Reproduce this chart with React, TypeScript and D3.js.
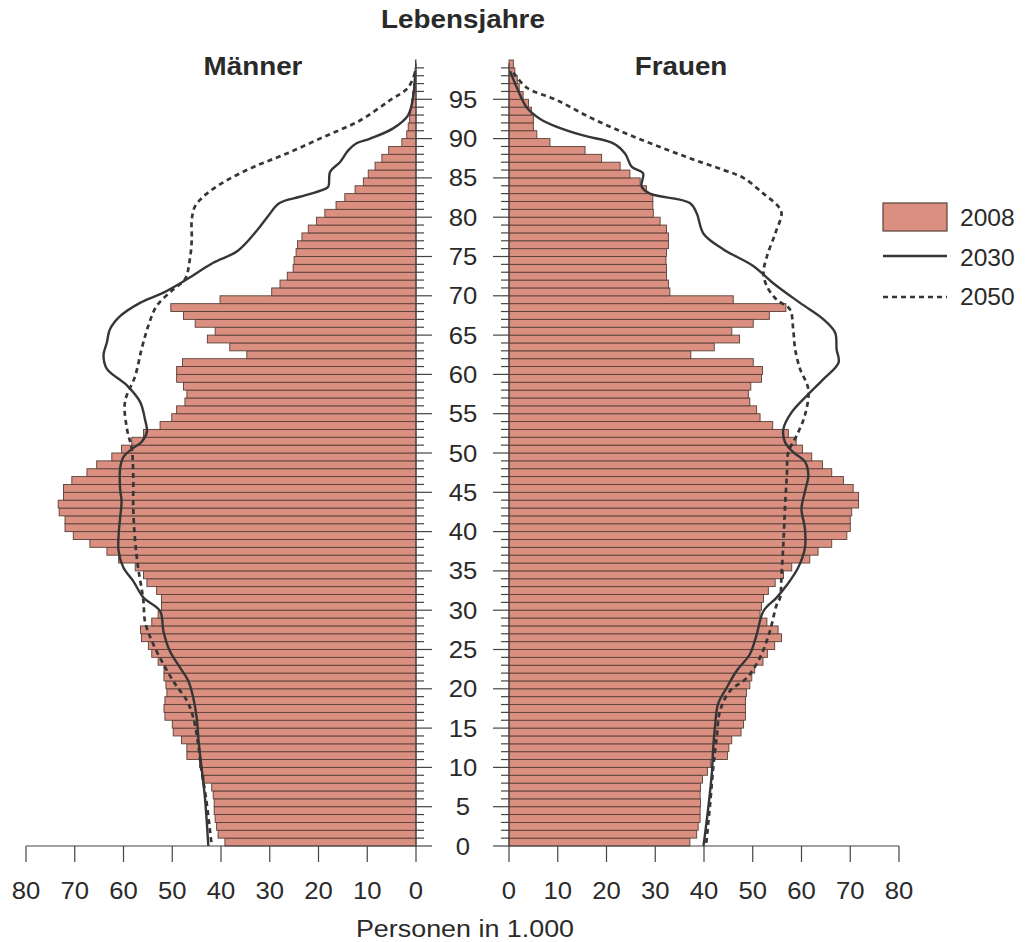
import React from "react";
import * as d3 from "d3";

const W = 1028;
const H = 942;
const FONT = "'Liberation Sans', Arial, Helvetica, sans-serif";
const TEXT = "#2a2a2a";
const BAR_FILL = "#da8f80";
const BAR_STROKE = "#5a4038";
const LINE = "#363636";

// Bevölkerung 2008 je Altersjahr 0..99, in 1.000
const maenner2008 = [
  39.2, 40.6, 40.9, 41.2, 41.4, 41.4, 41.6, 41.9, 43.5, 44.0,
  44.4, 47.0, 47.0, 48.1, 49.8, 50.0, 51.5, 51.7, 51.5, 51.1,
  51.3, 51.7, 51.7, 52.9, 54.2, 54.9, 56.3, 56.5, 54.2, 52.9,
  52.2, 52.2, 53.2, 55.2, 55.9, 57.6, 61.0, 63.4, 66.9, 70.3,
  72.0, 72.0, 73.2, 73.4, 72.3, 72.3, 70.6, 67.5, 65.5, 62.4,
  60.4, 58.3, 55.9, 52.5, 50.1, 49.1, 47.4, 47.0, 47.7, 49.1,
  49.1, 47.9, 34.7, 38.2, 42.8, 41.2, 45.3, 47.7, 50.3, 40.2,
  29.6, 27.9, 26.4, 25.2, 25.0, 24.6, 24.3, 23.4, 22.1, 20.4,
  18.7, 16.4, 14.6, 12.5, 10.8, 9.8, 8.4, 7.0, 5.6, 2.9,
  1.9, 1.6, 1.3, 1.1, 0.9, 0.7, 0.5, 0.3, 0.2, 0.1
];

const frauen2008 = [
  37.1, 38.5, 38.8, 39.2, 39.2, 39.3, 39.2, 39.3, 39.7, 40.7,
  41.4, 44.8, 45.1, 45.7, 47.6, 48.1, 48.5, 48.5, 48.5, 48.7,
  49.4, 49.8, 50.4, 52.1, 53.0, 54.5, 55.9, 55.2, 52.9, 51.5,
  51.8, 52.2, 53.2, 54.6, 56.3, 58.0, 61.7, 63.4, 66.2, 69.3,
  70.0, 70.0, 70.3, 71.7, 71.7, 70.6, 68.6, 66.2, 64.3, 62.1,
  60.2, 58.9, 57.3, 54.1, 51.5, 50.8, 49.4, 49.1, 49.6, 51.8,
  52.0, 50.1, 37.3, 42.1, 47.3, 45.7, 50.1, 53.4, 56.8, 46.0,
  33.0, 32.7, 32.3, 32.3, 32.2, 32.3, 32.7, 32.7, 32.3, 31.0,
  29.6, 29.5, 29.5, 28.2, 26.9, 24.8, 22.8, 19.0, 15.6, 8.4,
  5.7, 5.0, 5.0, 4.6, 4.0, 2.9, 2.1, 1.7, 1.2, 0.9
];

// Vorausberechnung: [Alter, Personen in 1.000]
const maenner2030: [number, number][] = [
  [98.6, 0.2], [95.7, 0.5], [93, 1.6], [91.3, 4.7], [90, 9.4], [89.4, 12.2],
  [88.5, 13.9], [87, 15.6], [85.8, 17.6], [83.9, 18], [83.5, 19], [82.6, 23.8],
  [81.8, 28], [80.1, 30.4], [78.4, 32.5], [75.7, 36.6], [74.2, 41.6], [72.1, 47],
  [70.4, 51.8], [69.1, 56.6], [67.4, 60.7], [65.7, 62.8], [64.1, 63.4], [62.4, 64.1],
  [60.7, 63.4], [58.6, 59.3], [56.5, 56.6], [54.3, 55.6], [52.7, 55.2], [51.4, 56.3],
  [50.5, 58.3], [49.5, 60], [48, 60.7], [45.5, 60.7], [43.8, 60.4], [41.7, 60.7],
  [39.6, 61], [37.5, 61], [35.4, 60], [33.7, 58], [31.6, 55.9], [29.9, 52.5],
  [27.3, 51.8], [24.8, 50.5], [22.7, 48.4], [21, 46.7], [18.9, 45.7], [16.4, 45],
  [13.4, 44.6], [10, 44], [6.2, 43.3], [0, 42.6]
];

const maenner2050: [number, number][] = [
  [98.4, 0.2], [96.5, 1.6], [94.9, 5.3], [92.3, 11.5], [90.2, 19], [88.1, 26.5],
  [86.4, 33.3], [84.7, 38.8], [83, 42.9], [81.4, 45.3], [79.7, 46], [77.1, 46],
  [74.6, 46.4], [72.1, 47.4], [70.8, 49.8], [68.7, 53.2], [66.2, 54.9], [63.2, 56.3],
  [59.8, 57.6], [56.5, 59.7], [53.1, 59.3], [50.5, 58.3], [47.2, 58], [42.9, 58],
  [38.7, 57.6], [35.4, 57], [32.8, 56.3], [31.1, 55.9], [28.6, 55.6], [26.1, 54.2],
  [23.1, 51.8], [20.6, 49.4], [18.5, 47], [16.4, 45.7], [13, 44.7], [9.6, 44],
  [6.2, 43.1], [0, 41.9]
];

const frauen2030: [number, number][] = [
  [98.6, 0.2], [96.5, 1.6], [94, 3.6], [92.5, 6.4], [91.5, 9.8], [90.4, 15.2],
  [89.4, 21.4], [88.1, 23.8], [86.4, 25.2], [85.6, 27.5], [83.9, 27.2], [83, 28.9],
  [81.8, 37.1], [80.5, 38.5], [77.9, 39.9], [75.9, 44], [73.8, 50.1], [71.6, 54.2],
  [69.1, 59.7], [67, 64.5], [65.3, 66.9], [63.2, 67.2], [61.5, 67.6], [59.4, 64.5],
  [57.3, 61.1], [55.2, 58], [53.1, 56.3], [51.4, 56.6], [50.1, 58.3], [48.9, 60.7],
  [47.2, 61.4], [45.1, 60.7], [42.9, 60], [40.4, 60.7], [37.9, 60.7], [35.4, 59.3],
  [33.2, 57], [31.6, 54.9], [29.9, 52.2], [26.9, 50.8], [24.4, 49.4], [22.3, 46.7],
  [20.2, 44.7], [18.1, 42.9], [15.5, 42.3], [12.6, 41.9], [9.2, 41.6], [5, 40.9],
  [0, 39.9]
];

const frauen2050: [number, number][] = [
  [98.4, 0.9], [96.5, 3.6], [94.9, 9.8], [92.7, 16.6], [90.8, 23.4], [89.1, 30.3],
  [87.5, 37.1], [86, 44], [85, 48.1], [83, 52.2], [81.4, 55.2], [80.5, 55.9],
  [77.9, 54.6], [75, 52.9], [72.9, 52.2], [71.2, 52.9], [69.5, 54.9], [68.3, 57.6],
  [65.7, 58.3], [63.2, 58.7], [60.7, 59.7], [58.1, 61.4], [54.8, 60.7], [52.2, 59],
  [50.1, 57.3], [47.2, 57], [42.9, 56.6], [38.7, 56.3], [34.5, 55.9], [31.6, 55.6],
  [30.7, 54.9], [27.3, 53.5], [24, 51.5], [21.4, 48.8], [19.7, 45.3], [17.2, 43.3],
  [13.8, 42.6], [10, 41.9], [5, 41.2], [0, 40.4]
];

const ageLabels = [0, 5, 10, 15, 20, 25, 30, 35, 40, 45, 50, 55, 60, 65, 70, 75, 80, 85, 90, 95];
const valueLabels = [0, 10, 20, 30, 40, 50, 60, 70, 80];
const legendLabels = ["2008", "2030", "2050"];

export default function App() {
  const y = d3.scaleLinear().domain([0, 100]).range([846, 60]);
  const xL = d3.scaleLinear().domain([0, 80]).range([416, 26]);
  const xR = d3.scaleLinear().domain([0, 80]).range([509, 899]);

  const lineL = d3
    .line<[number, number]>()
    .x(d => xL(d[1]))
    .y(d => y(d[0]))
    .curve(d3.curveCatmullRom.alpha(0.5));
  const lineR = d3
    .line<[number, number]>()
    .x(d => xR(d[1]))
    .y(d => y(d[0]))
    .curve(d3.curveCatmullRom.alpha(0.5));

  const ageTicks = d3.range(0, 100);
  const axisY = 846;
  const labelX = 463;

  // Schrift leicht in die Breite gezogen wie im Original
  const wide = (x: number, yy: number) => `translate(${x},${yy}) scale(1.07,1)`;

  return (
    <svg
      width={W}
      height={H}
      style={{ position: "absolute", left: 0, top: 0, background: "#fff" }}
      fontFamily={FONT}
    >
      {/* Balken 2008 */}
      <g>
        {maenner2008.map((v, i) => (
          <rect
            key={"m" + i}
            x={xL(v)}
            y={y(i + 1)}
            width={xL(0) - xL(v)}
            height={y(i) - y(i + 1)}
            fill={BAR_FILL}
            stroke={BAR_STROKE}
            strokeWidth={0.9}
          />
        ))}
        {frauen2008.map((v, i) => (
          <rect
            key={"f" + i}
            x={xR(0)}
            y={y(i + 1)}
            width={xR(v) - xR(0)}
            height={y(i) - y(i + 1)}
            fill={BAR_FILL}
            stroke={BAR_STROKE}
            strokeWidth={0.9}
          />
        ))}
      </g>

      {/* Linien 2030 / 2050 */}
      <path d={lineL(maenner2030) || ""} fill="none" stroke={LINE} strokeWidth={2.4} />
      <path d={lineR(frauen2030) || ""} fill="none" stroke={LINE} strokeWidth={2.4} />
      <path d={lineL(maenner2050) || ""} fill="none" stroke={LINE} strokeWidth={2.7} strokeDasharray="5 4" />
      <path d={lineR(frauen2050) || ""} fill="none" stroke={LINE} strokeWidth={2.7} strokeDasharray="5 4" />

      {/* Altersachsen */}
      <g stroke="#444" strokeWidth={1.2}>
        <line x1={xL(0)} x2={xL(0)} y1={y(0)} y2={y(99.6)} />
        <line x1={xR(0)} x2={xR(0)} y1={y(0)} y2={y(99.6)} />
        {ageTicks.map(a => {
          const major = a % 5 === 0;
          return (
            <g key={"t" + a}>
              <line x1={xL(0)} x2={xL(0) + (major ? 16 : 8)} y1={y(a)} y2={y(a)} />
              <line x1={xR(0)} x2={xR(0) - (major ? 16 : 8)} y1={y(a)} y2={y(a)} />
            </g>
          );
        })}
      </g>
      {ageLabels.map(a => (
        <text
          key={"al" + a}
          transform={wide(labelX, y(a) + 8.5)}
          textAnchor="middle"
          fontSize={24}
          fill={TEXT}
        >
          {a}
        </text>
      ))}

      {/* Werteachsen */}
      <g stroke="#444" strokeWidth={1.2}>
        <line x1={xL(80)} x2={xL(0)} y1={axisY} y2={axisY} />
        <line x1={xR(0)} x2={xR(80)} y1={axisY} y2={axisY} />
        {valueLabels.map(v => (
          <g key={"vt" + v}>
            <line x1={xL(v)} x2={xL(v)} y1={axisY} y2={axisY + 16} />
            <line x1={xR(v)} x2={xR(v)} y1={axisY} y2={axisY + 16} />
          </g>
        ))}
      </g>
      {valueLabels.map(v => (
        <g key={"vl" + v} fontSize={24} fill={TEXT} textAnchor="middle">
          <text transform={wide(xL(v), 899)}>{v}</text>
          <text transform={wide(xR(v), 899)}>{v}</text>
        </g>
      ))}

      {/* Titel */}
      <text transform={wide(labelX, 28)} textAnchor="middle" fontSize={26} fontWeight="bold" fill={TEXT}>
        Lebensjahre
      </text>
      <text transform={wide(253, 75)} textAnchor="middle" fontSize={26} fontWeight="bold" fill={TEXT}>
        Männer
      </text>
      <text transform={wide(681, 75)} textAnchor="middle" fontSize={26} fontWeight="bold" fill={TEXT}>
        Frauen
      </text>
      <text
        transform={`translate(465,937) scale(1.12,1)`}
        textAnchor="middle"
        fontSize={24}
        fill={TEXT}
      >
        Personen in 1.000
      </text>

      {/* Legende */}
      <g>
        <rect x={883} y={203} width={64} height={28} fill={BAR_FILL} stroke={BAR_STROKE} strokeWidth={1.2} />
        <line x1={883} x2={947} y1={256} y2={256} stroke={LINE} strokeWidth={2.7} />
        <line x1={883} x2={947} y1={297} y2={297} stroke={LINE} strokeWidth={2.7} strokeDasharray="5 4" />
        {legendLabels.map((l, i) => (
          <text key={l} transform={wide(960, 226 + i * 39.5)} fontSize={23} fill={TEXT}>
            {l}
          </text>
        ))}
      </g>
    </svg>
  );
}
